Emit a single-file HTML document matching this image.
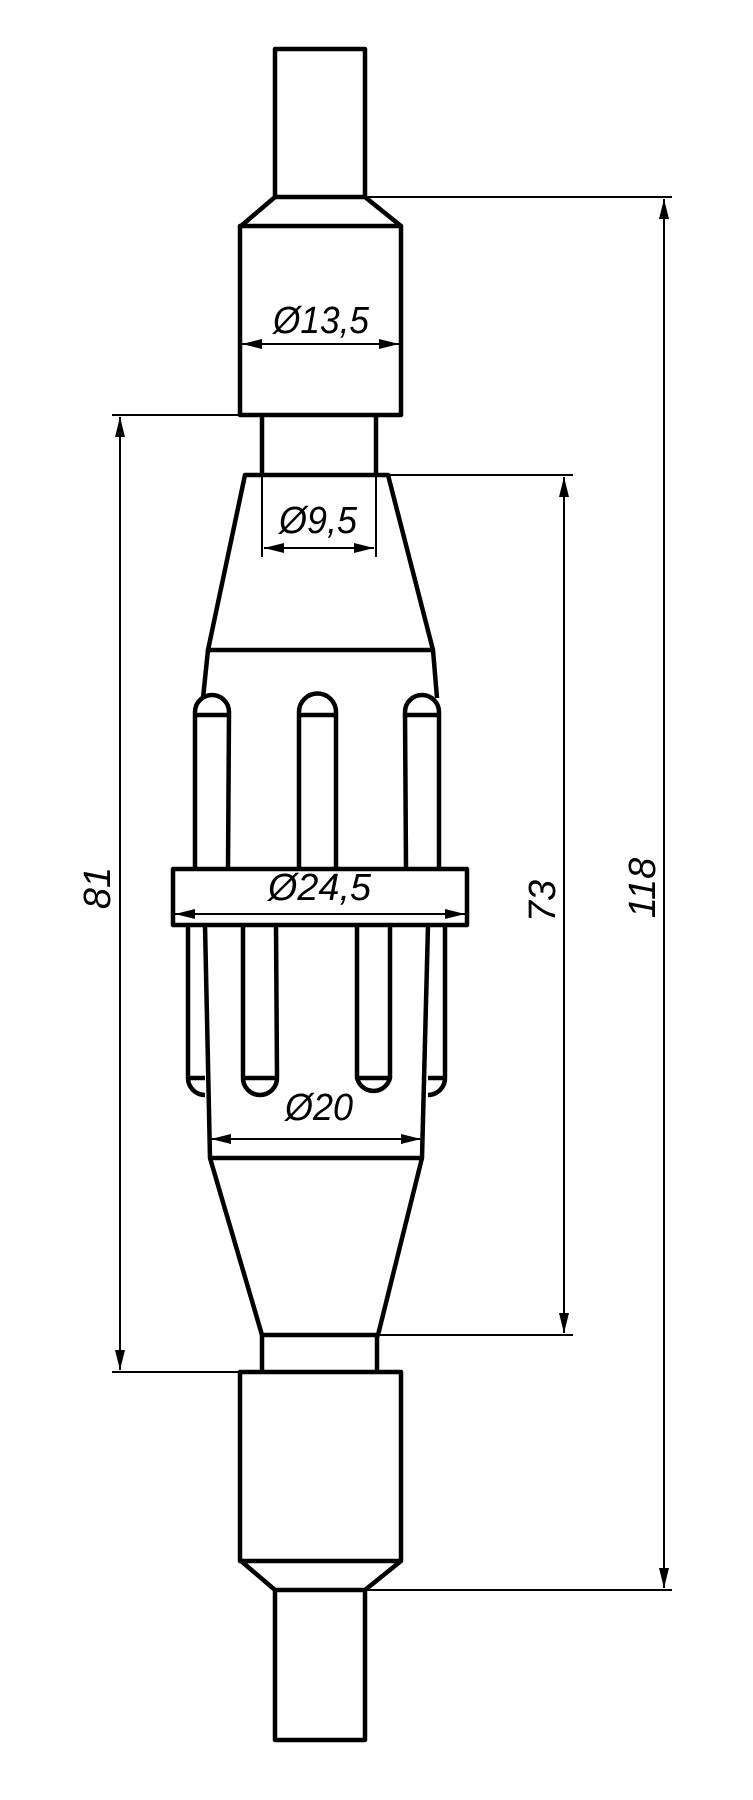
<!DOCTYPE html>
<html><head><meta charset="utf-8"><style>
html,body{margin:0;padding:0;background:#fff;}
svg{display:block;}
text{font-family:"Liberation Sans",sans-serif;font-size:38px;fill:#000;font-style:italic;}
</style></head><body>
<svg width="753" height="1800" viewBox="0 0 753 1800" xmlns="http://www.w3.org/2000/svg">
<defs>
<marker id="a" viewBox="0 0 20 10" refX="20" refY="5" markerWidth="20" markerHeight="10" markerUnits="userSpaceOnUse" orient="auto">
<path d="M0,0 L20,5 L0,10 Z" fill="#000"/></marker>
</defs>
<g fill="none" stroke="#000" stroke-width="4.5" stroke-linejoin="round">
<rect x="275" y="49" width="90" height="148"/>
<path d="M275,197 L241,226 M365,197 L401,226"/>
<rect x="240" y="226" width="161" height="189"/>
<path d="M262,415 V475 M376,415 V475"/>
<path d="M245,475 H388 L433,650 H208 Z"/>
<path d="M208,650 L203,698 M433,650 L437,698"/>
<path d="M195,869 V712 A17,17 0 0 1 229,712 L228,869 M195,715 H229"/>
<path d="M299,869 V712 A18,18 0 0 1 336,712 V869 M299,715 H336"/>
<path d="M406,869 L405,712 A17,17 0 0 1 439,712 V869 M405,715 H439"/>
<rect x="173" y="869" width="294" height="56"/>
<path d="M205,925 L210,1158 H422 L428,925"/>
<path d="M188,925 V1078 A17,17 0 0 0 205,1095 M188,1078 H205"/>
<path d="M428,1095 A17,17 0 0 0 445,1078 V925 M428,1078 H445"/>
<path d="M243,925 V1078 A17,17 0 0 0 277,1078 L276,925 M243,1078 H277"/>
<path d="M357,925 V1078 A17,17 0 0 0 390,1078 V925 M357,1078 H390"/>
<path d="M210,1158 L262,1335 H378 L422,1158"/>
<path d="M262,1335 V1372 M377,1335 V1372"/>
<rect x="240" y="1372" width="161" height="189"/>
<path d="M241,1561 L275,1590 M401,1561 L365,1590"/>
<rect x="275" y="1590" width="90" height="150"/>
</g>
<g fill="none" stroke="#000" stroke-width="2">
<path d="M365,197 H672 M365,1590 H672"/>
<path d="M664,893 V199" marker-end="url(#a)"/>
<path d="M664,893 V1588" marker-end="url(#a)"/>
<path d="M112,415 H240 M112,1372 H240"/>
<path d="M120,893 V417" marker-end="url(#a)"/>
<path d="M120,893 V1370" marker-end="url(#a)"/>
<path d="M388,475 H573 M378,1335 H573"/>
<path d="M564,900 V477" marker-end="url(#a)"/>
<path d="M564,900 V1333" marker-end="url(#a)"/>
<path d="M320,344 H242" marker-end="url(#a)"/>
<path d="M320,344 H399" marker-end="url(#a)"/>
<path d="M262,475 V557 M376,475 V557"/>
<path d="M319,548 H264" marker-end="url(#a)"/>
<path d="M319,548 H374" marker-end="url(#a)"/>
<path d="M320,914 H175" marker-end="url(#a)"/>
<path d="M320,914 H465" marker-end="url(#a)"/>
<path d="M316,1139 H211" marker-end="url(#a)"/>
<path d="M316,1139 H421" marker-end="url(#a)"/>
</g>
<text x="273" y="333" textLength="96" lengthAdjust="spacingAndGlyphs">Ø13,5</text>
<text x="279" y="533" textLength="78" lengthAdjust="spacingAndGlyphs">Ø9,5</text>
<text x="268" y="900" textLength="103" lengthAdjust="spacingAndGlyphs">Ø24,5</text>
<text x="285" y="1120" textLength="68" lengthAdjust="spacingAndGlyphs">Ø20</text>
<text transform="translate(110,888) rotate(-90)" text-anchor="middle">81</text>
<text transform="translate(555,901) rotate(-90)" text-anchor="middle">73</text>
<text transform="translate(655,888) rotate(-90)" text-anchor="middle">118</text>
</svg>
</body></html>
